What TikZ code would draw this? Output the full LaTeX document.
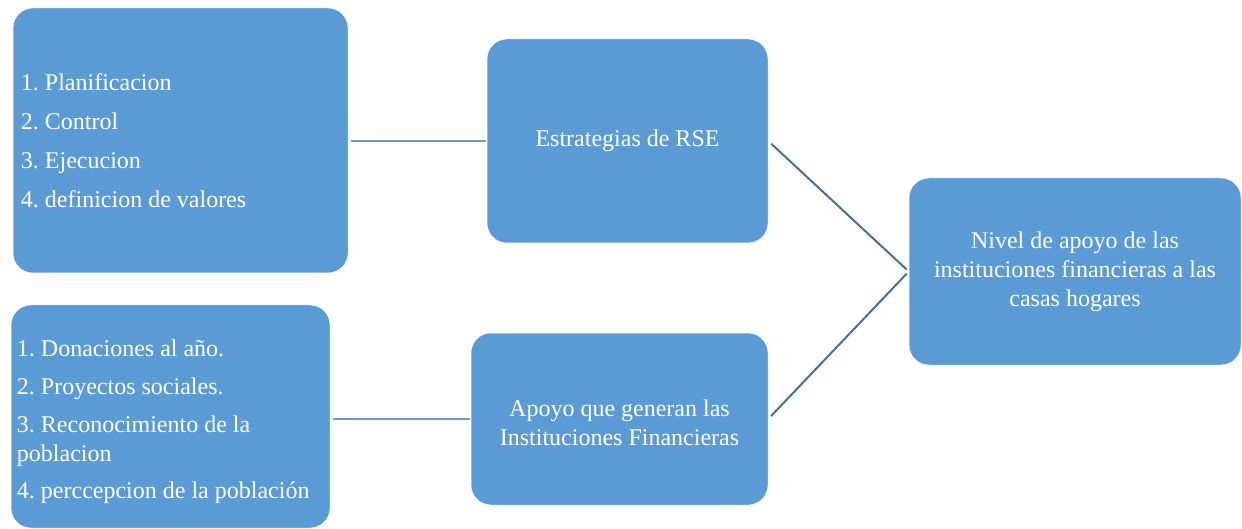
\documentclass[tikz,border=0pt]{standalone}
\usepackage{fontspec}
\setmainfont{Liberation Serif}
\frenchspacing
\definecolor{boxblue}{HTML}{5B9BD5}
\definecolor{hline}{HTML}{6A9CD2}
\definecolor{dline}{HTML}{41719C}
\begin{document}
\begin{tikzpicture}[x=1pt,y=-1pt,
  box/.style={rectangle, rounded corners=20pt, fill=boxblue, draw=white, line width=0.5pt, inner sep=0pt},
  txt/.style={text=white, font=\fontsize{24}{29}\selectfont\frenchspacing, inner sep=0pt},
  conn/.style={line width=2.2pt}]
\useasboundingbox (0,0) rectangle (1242,529);
\node[box, minimum width=335pt, minimum height=265pt] (A) at (180.5,140.5) {};
\node[box, minimum width=319pt, minimum height=223pt] (B) at (170.5,416.5) {};
\node[box, minimum width=281pt, minimum height=204pt] (C) at (627.5,141) {};
\node[box, minimum width=297pt, minimum height=172pt] (D) at (619.5,419) {};
\node[box, minimum width=332pt, minimum height=187pt] (E) at (1075,271.5) {};
\node[txt, anchor=west, align=left] (At) at ([xshift=8pt]A.west)
  {1. Planificacion\\[10pt]2. Control\\[10pt]3. Ejecucion\\[10pt]4. definicion de valores};
\node[txt, anchor=west, align=left] (Bt) at ([xshift=6pt,yshift=-5pt]B.west)
  {1. Donaciones al año.\\[9pt]2. Proyectos sociales.\\[9pt]3. Reconocimiento de la\\poblacion\\[8pt]4. perccepcion de la población};
\node[txt, align=center] (Ct) at (C.center) {Estrategias de RSE};
\node[txt, align=center] (Dt) at ([yshift=-4pt]D.center) {Apoyo que generan las\\Instituciones Financieras};
\node[txt, align=center] (Et) at (E.center) {Nivel de apoyo de las\\instituciones financieras a las\\casas hogares};
\draw[conn, hline, shorten <=3pt, shorten >=1pt] (C.west -| A.east) -- (C.west);
\draw[conn, hline, shorten <=3pt, shorten >=1pt] (D.west -| B.east) -- (D.west);
\draw[conn, dline, line width=2pt, shorten <=4pt, shorten >=3pt] (C.east) -- (E.west);
\draw[conn, dline, line width=2pt, shorten <=4pt, shorten >=3pt] (D.east) -- (E.west);
\end{tikzpicture}
\end{document}
